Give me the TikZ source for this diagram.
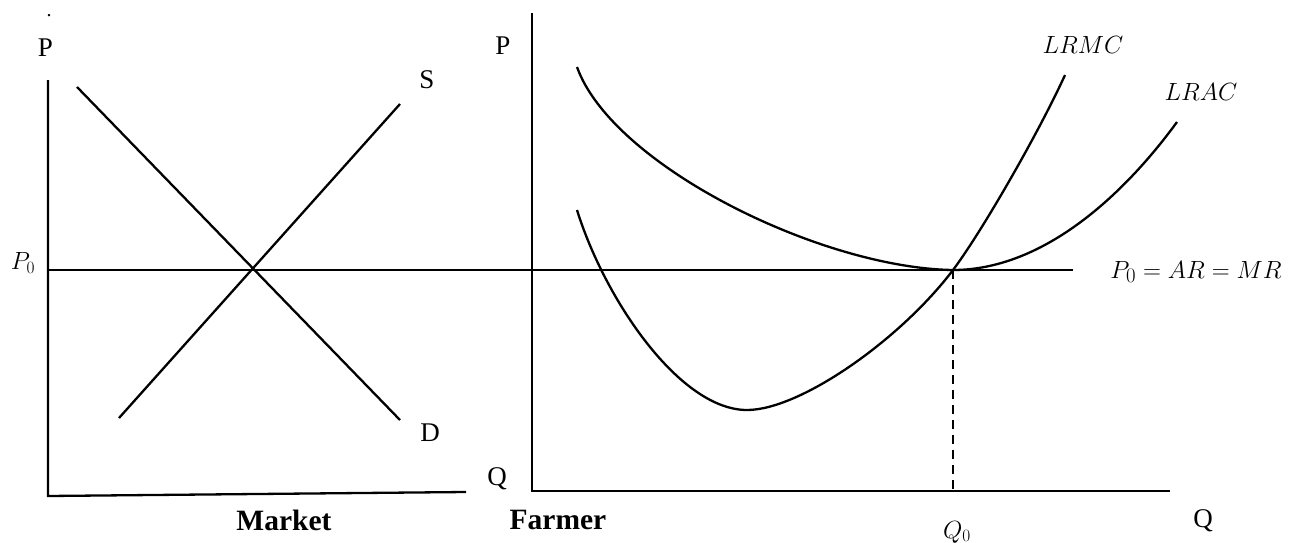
\documentclass[tikz,border=0pt]{standalone}
\usepackage{fontspec}
\setmainfont{Liberation Serif}
\begin{document}
\begin{tikzpicture}[x=1pt,y=-1pt,
  ln/.style={line width=2.3pt,line cap=butt},
  cv/.style={line width=2.3pt},
  lbl/.style={inner sep=0pt,font=\fontsize{27}{30}\selectfont},
  bl/.style={inner sep=0pt,font=\fontsize{29.5}{32}\selectfont\bfseries},
  ml/.style={inner sep=0pt,font=\fontsize{26}{30}\selectfont}]
\useasboundingbox (0,0) rectangle (1295,543);
% left panel axes
\coordinate (LT) at (48,80);
\coordinate (LO) at (48,496);
\coordinate (LR) at (466,492);
\draw[ln] (LT) -- (LO) -- (LR);
% supply and demand
\coordinate (D1) at (77,87);
\coordinate (D2) at (400,420);
\coordinate (S1) at (119,418);
\coordinate (S2) at (400,104);
\draw[ln] (D1) -- (D2);
\draw[ln] (S1) -- (S2);
% price line
\coordinate (PL) at (48,270);
\coordinate (PR) at (1073,270);
\draw[ln] (PL) -- (PR);
% right panel axes
\coordinate (RT) at (532,13);
\coordinate (RO) at (532,491);
\coordinate (RR) at (1170,491);
\draw[ln] (RT) -- (RO) -- (RR);
% LRAC
\coordinate (E) at (953,270);
\draw[cv] (577,67) .. controls (612,165) and (820,268) .. (E)
  .. controls (1040,270) and (1120,200) .. (1177,122);
% LRMC
\draw[cv] (577,210) .. controls (605,300) and (680,410) .. (747,410)
  .. controls (800,410) and (900,340) .. (E)
  .. controls (983,230) and (1040,130) .. (1065,75);
% dashed
\coordinate (QB) at (953,491);
\draw[ln,dash pattern=on 9pt off 6pt] (E) -- (QB);
% labels
\node[lbl] (dot) at (49,16) {\fontsize{20}{20}\selectfont .};
\node[lbl] (pl) at (45.5,48) {P};
\node[lbl] (s) at (427,80) {S};
\node[lbl] (d) at (430,433) {D};
\node[lbl] (ql) at (497,479) {Q};
\node[bl] (mk) at (284,520) {Market};
\node[ml] (p0) at (23,263) {$P_0$};
\node[lbl] (pr) at (503,46) {P};
\node[bl] (fm) at (558,520) {Farmer};
\node[lbl] (qr) at (1203,521) {Q};
\node[ml] (q0) at (957,532) {$Q_0$};
\node[ml] (lrmc) at (1083,45) {$LRMC$};
\node[ml] (lrac) at (1201,92) {$LRAC$};
\node[ml,font=\fontsize{28}{30}\selectfont] (eq) at (1196,272) {$P_0 = AR = MR$};
\end{tikzpicture}
\end{document}
